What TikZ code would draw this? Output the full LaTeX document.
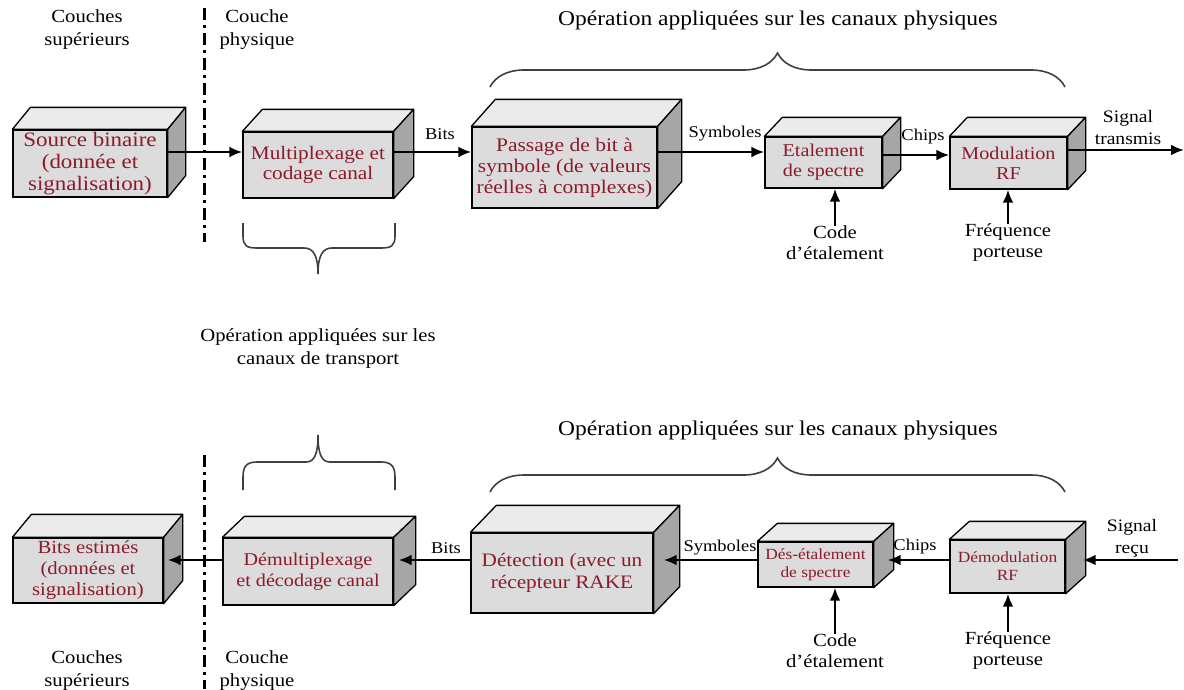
\documentclass[tikz,border=0pt]{standalone}
\usepackage{fontspec}
\setmainfont{Liberation Serif}[FakeStretch=1.12]
\usetikzlibrary{arrows.meta,decorations.pathreplacing,calc}
\definecolor{boxred}{HTML}{8B1A2B}
\definecolor{facecol}{HTML}{DCDCDC}
\definecolor{topcol}{HTML}{EBEBEB}
\definecolor{sidecol}{HTML}{A6A6A6}
\newcommand\fsz[2]{\fontsize{#1}{#2}\selectfont}
\tikzset{
  frontface/.style={draw, fill=facecol, line width=1.3pt, text=boxred, align=center, inner sep=0pt},
  topface/.style={draw, fill=topcol, line width=1.3pt, line join=round},
  sideface/.style={draw, fill=sidecol, line width=1.3pt, line join=round},
  arr/.style={line width=2.8pt, -{Latex[length=13pt,width=11pt]}},
  lbl/.style={align=center, inner sep=0pt, text=black},
  brc/.style={line width=1.6pt, draw=black!75, decorate},
  brcc/.style={line width=1.6pt, draw=black!75},
  sep/.style={line width=3pt, dash pattern=on 12pt off 5pt on 3pt off 5pt}
}
% #1 name #2 cx #3 cy #4 w #5 h #6 dx #7 dy #8 font #9 text
\newcommand\cubebox[9]{%
  \node[frontface, minimum width=#4pt, minimum height=#5pt, font=#8] (#1) at (#2,#3) {#9};
  \draw[topface] (#1.north west) -- ++(#6,-#7) -- ([shift={(#6,-#7)}]#1.north east) -- (#1.north east) -- cycle;
  \draw[sideface] (#1.north east) -- ++(#6,-#7) -- ([shift={(#6,-#7)}]#1.south east) -- (#1.south east) -- cycle;
}
\begin{document}
\begin{tikzpicture}[x=1pt,y=-1pt]
\useasboundingbox (0,0) rectangle (1184,689);
\fill[white] (0,0) rectangle (1184,689);

% ---------- separators ----------
\coordinate (s1t) at (204,8);
\coordinate (s1b) at (204,242);
\coordinate (s2t) at (204,455);
\coordinate (s2b) at (204,689);
\draw[sep] (s1t) -- (s1b);
\draw[sep] (s2t) -- (s2b);

% ---------- top labels ----------
\node[lbl, font=\fsz{18.5}{23}] (cs1) at (87,30) {Couches\\supérieurs};
\node[lbl, font=\fsz{18.5}{23}] (cp1) at (257,30) {Couche\\physique};
\node[lbl, font=\fsz{21}{24}] (op1) at (778,20) {Opération appliquées sur les canaux physiques};
\node[lbl, font=\fsz{18.5}{23}] (opt) at (318,349) {Opération appliquées sur les\\canaux de transport};
\node[lbl, font=\fsz{21}{24}] (op2) at (778,430) {Opération appliquées sur les canaux physiques};
\node[lbl, font=\fsz{18.5}{23}] (cs2) at (87,671) {Couches\\supérieurs};
\node[lbl, font=\fsz{18.5}{23}] (cp2) at (257,671) {Couche\\physique};

% ---------- braces ----------
\coordinate (b1l) at (490,87);
\coordinate (b1r) at (1065,87);
\draw[brc, decoration={brace, amplitude=34pt}] (b1l) -- (b1r);
\coordinate (b2l) at (243,223);
\coordinate (b2r) at (395,223);
\draw[brcc] (b2l) -- (243,236) .. controls (243,246) and (247,248) .. (257,248) -- (304,248)
  .. controls (313,248) and (318,255) .. (318,274)
  .. controls (318,255) and (323,248) .. (332,248) -- (381,248)
  .. controls (391,248) and (395,246) .. (395,236) -- (b2r);
\coordinate (b3l) at (490,492);
\coordinate (b3r) at (1065,492);
\draw[brc, decoration={brace, amplitude=34pt}] (b3l) -- (b3r);
\coordinate (b4l) at (243,490);
\coordinate (b4r) at (395,490);
\draw[brcc] (b4l) -- (243,477) .. controls (243,466) and (247,462) .. (257,462) -- (306,462)
  .. controls (314,462) and (318,455) .. (318,435)
  .. controls (318,455) and (322,462) .. (330,462) -- (381,462)
  .. controls (391,462) and (395,466) .. (395,477) -- (b4r);

% ---------- top row boxes ----------
\cubebox{src}{90}{163.5}{154}{67}{18}{22}{\fsz{20.5}{22}}{Source binaire\\(donnée et\\signalisation)}
\cubebox{mux}{318}{165}{150}{66}{20}{22}{\fsz{19}{20}}{Multiplexage et\\codage canal}
\cubebox{pas}{564.5}{167.5}{185}{81}{24}{27}{\fsz{19.2}{21}}{Passage de bit à\\symbole (de valeurs\\réelles à complexes)}
\cubebox{eta}{823.5}{162.5}{117}{51}{18}{19}{\fsz{18}{20}}{Etalement\\de spectre}
\cubebox{mod}{1008.5}{163}{117}{52}{18}{19}{\fsz{18}{20}}{Modulation\\RF}

% top row arrows
\draw[arr] (src.east |- 0,152) -- (mux.west |- 0,152);
\draw[arr] (mux.east |- 0,152) -- (pas.west |- 0,152);
\draw[arr] (pas.east |- 0,152) -- (eta.west |- 0,152);
\draw[arr] (eta.east |- 0,155) -- (mod.west |- 0,155);
\coordinate (tout) at (1184,150);
\draw[arr] (mod.east |- 0,150) -- (tout);
\node[lbl, font=\fsz{16.5}{19}] (lbits1) at (440,134) {Bits};
\node[lbl, font=\fsz{16.5}{19}] (lsym1) at (725,134) {Symboles};
\node[lbl, font=\fsz{16.5}{19}] (lchip1) at (923,137) {Chips};
\node[lbl, font=\fsz{17.5}{22}] (lsig1) at (1128,128) {Signal\\transmis};

\node[lbl, font=\fsz{18.5}{21}] (code1) at (835,243) {Code\\d'étalement};
\node[lbl, font=\fsz{18.5}{21}] (freq1) at (1008,243) {Fréquence\\porteuse};
\draw[arr] (code1.north -| 835,0) -- (eta.south -| 835,0);
\draw[arr] (freq1.north) -- (mod.south -| freq1.north);

% ---------- bottom row boxes ----------
\cubebox{bits}{88}{570.5}{150}{65}{19}{23}{\fsz{18.5}{21}}{Bits estimés\\(données et\\signalisation)}
\cubebox{demux}{308}{571.5}{170}{67}{22}{21}{\fsz{18}{21}}{Démultiplexage\\et décodage canal}
\cubebox{det}{562}{573}{182}{80}{26}{27}{\fsz{19}{22}}{Détection (avec un\\récepteur RAKE}
\cubebox{des}{815.5}{564.5}{115}{45}{20}{18}{\fsz{15.5}{18}}{Dés-étalement\\de spectre}
\cubebox{demod}{1007.5}{566.5}{115}{53}{20}{18}{\fsz{15.5}{18}}{Démodulation\\RF}

% bottom row arrows
\draw[arr] (demux.west |- 0,560) -- ([xshift=4pt]bits.east |- 0,560);
\draw[arr] (det.west |- 0,560) -- ([xshift=5pt]demux.east |- 0,560);
\draw[arr] (des.west |- 0,560) -- ([xshift=10pt]det.east |- 0,560);
\draw[arr] (demod.west |- 0,560) -- ([xshift=14pt]des.east |- 0,560);
\coordinate (bin) at (1178,560);
\draw[arr] (bin) -- ([xshift=17pt]demod.east |- 0,560);
\node[lbl, font=\fsz{16.5}{19}] (lbits2) at (446,548) {Bits};
\node[lbl, font=\fsz{16.5}{19}] (lsym2) at (720,548) {Symboles};
\node[lbl, font=\fsz{16.5}{19}] (lchip2) at (915,547) {Chips};
\node[lbl, font=\fsz{17.5}{22}] (lsig2) at (1132,538) {Signal\\reçu};

\node[lbl, font=\fsz{18.5}{21}] (code2) at (835,651) {Code\\d'étalement};
\node[lbl, font=\fsz{18.5}{21}] (freq2) at (1008,651) {Fréquence\\porteuse};
\draw[arr] (code2.north) -- (des.south -| code2.north);
\draw[arr] (freq2.north) -- (demod.south -| freq2.north);
\end{tikzpicture}
\end{document}
